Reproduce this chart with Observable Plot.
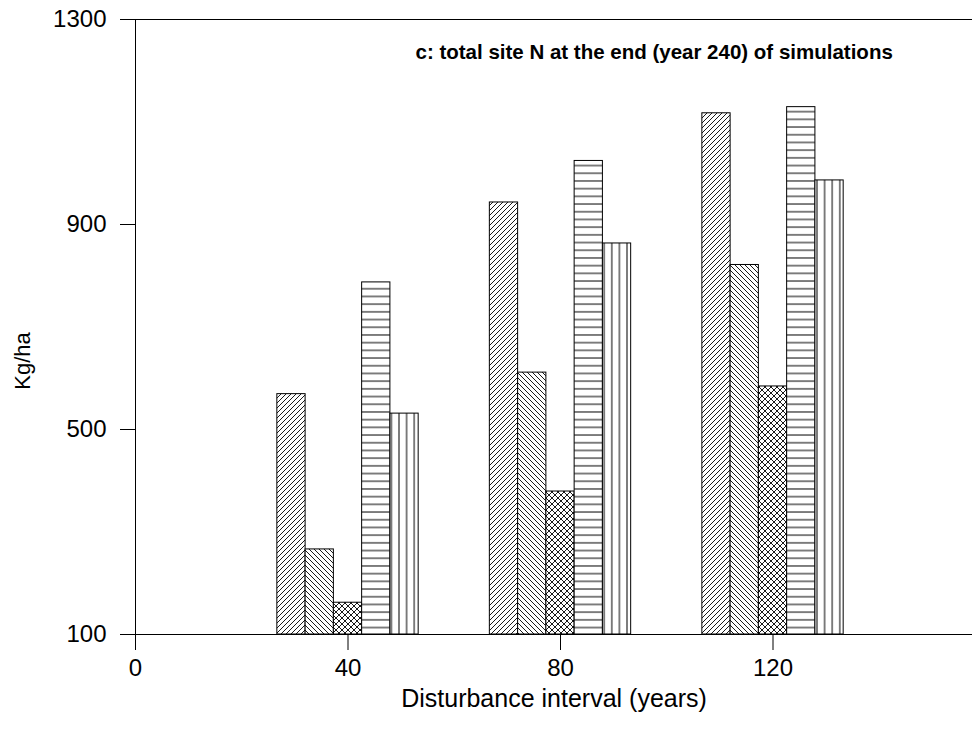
<!DOCTYPE html>
<html>
<head>
<meta charset="utf-8">
<script src="https://cdn.jsdelivr.net/npm/d3@7"></script>
<script src="https://cdn.jsdelivr.net/npm/@observablehq/plot@0.6"></script>
<style>
  html, body { margin: 0; padding: 0; background: #fff; }
</style>
</head>
<body>
<div id="chart"></div>
<script>
// ---- data ----
const intervals = [40, 80, 120];
const series1 = [569, 943, 1117];   // forward diagonal hatch
const series2 = [266, 611, 821];    // backward diagonal hatch
const series3 = [162, 379, 584];    // cross hatch
const series4 = [787, 1024, 1129];  // horizontal lines
const series5 = [531, 863, 986];    // vertical lines
const xTicks = [0, 40, 80, 120];
const yTicks = [100, 500, 900, 1300];
const titleText = "c: total site N at the end (year 240) of simulations";
const xLabel = "Disturbance interval (years)";
const yLabel = "Kg/ha";

const allSeries = [series1, series2, series3, series4, series5];
const patterns = ["p1", "p2", "p3", "p4", "p5"];
const barW = 5.32;   // bar width in data units
const base = 100;

const rows = [];
allSeries.forEach((s, i) => {
  s.forEach((v, j) => {
    rows.push({
      series: i,
      interval: intervals[j],
      value: v,
      x1: intervals[j] + (i - 2.5) * barW,
      x2: intervals[j] + (i - 1.5) * barW
    });
  });
});

const font = "'Liberation Sans', Arial, sans-serif";

const barMarks = patterns.map((p, i) =>
  Plot.rect(rows.filter(d => d.series === i), {
    x1: "x1", x2: "x2", y1: () => base, y2: "value",
    fill: `url(#${p})`, stroke: "black", strokeWidth: 1
  })
);

const chart = Plot.plot({
  width: 972,
  height: 742,
  marginLeft: 135,
  marginRight: 0,
  marginTop: 19,
  marginBottom: 108,
  style: { fontFamily: font, color: "black", background: "white", overflow: "visible" },
  x: { domain: [0, 157.55] },
  y: { domain: [100, 1300] },
  marks: [
    ...barMarks,
    Plot.ruleY([100, 1300], { stroke: "black", strokeWidth: 1 }),
    Plot.ruleX([0], { stroke: "black", strokeWidth: 1 }),
    Plot.axisX({ ticks: xTicks, tickSize: 16, tickPadding: 8, fontSize: 24, label: null, stroke: "black", tickFormat: d => String(d) }),
    Plot.axisY({ ticks: yTicks, tickSize: 15, tickPadding: 14, fontSize: 24, label: null, stroke: "black", tickFormat: d => String(d) }),
    Plot.text([titleText], { frameAnchor: "top-left", textAnchor: "start", lineAnchor: "middle", dx: 280, dy: 33, fontSize: 20.5, fontWeight: "bold", fill: "black" }),
    Plot.text([xLabel], { frameAnchor: "bottom", textAnchor: "middle", lineAnchor: "middle", dy: 64, fontSize: 25, fill: "black" }),
    Plot.text([yLabel], { frameAnchor: "left", textAnchor: "middle", lineAnchor: "middle", rotate: -90, dx: -113, dy: 34, fontSize: 22, fill: "black" })
  ]
});

// pattern definitions
const ns = "http://www.w3.org/2000/svg";
const defs = document.createElementNS(ns, "defs");
defs.innerHTML = `
  <pattern id="p1" patternUnits="userSpaceOnUse" width="5" height="5">
    <rect width="5" height="5" fill="white"/>
    <path d="M-1,1 l2,-2 M0,5 l5,-5 M4,6 l2,-2" stroke="black" stroke-width="0.9"/>
  </pattern>
  <pattern id="p2" patternUnits="userSpaceOnUse" width="5" height="5">
    <rect width="5" height="5" fill="white"/>
    <path d="M-1,4 l2,2 M0,0 l5,5 M4,-1 l2,2" stroke="black" stroke-width="0.9"/>
  </pattern>
  <pattern id="p3" patternUnits="userSpaceOnUse" width="6" height="6">
    <rect width="6" height="6" fill="white"/>
    <path d="M-1,1 l2,-2 M0,6 l6,-6 M5,7 l2,-2 M-1,5 l2,2 M0,0 l6,6 M5,-1 l2,2" stroke="black" stroke-width="0.9"/>
  </pattern>
  <pattern id="p4" patternUnits="userSpaceOnUse" width="10" height="7.7">
    <rect width="10" height="7.7" fill="white"/>
    <path d="M0,3.85 H10" stroke="black" stroke-width="1"/>
  </pattern>
  <pattern id="p5" patternUnits="userSpaceOnUse" width="7.6" height="10">
    <rect width="7.6" height="10" fill="white"/>
    <path d="M3.8,0 V10" stroke="black" stroke-width="1"/>
  </pattern>`;
chart.insertBefore(defs, chart.firstChild);

document.getElementById("chart").appendChild(chart);
</script>
</body>
</html>
